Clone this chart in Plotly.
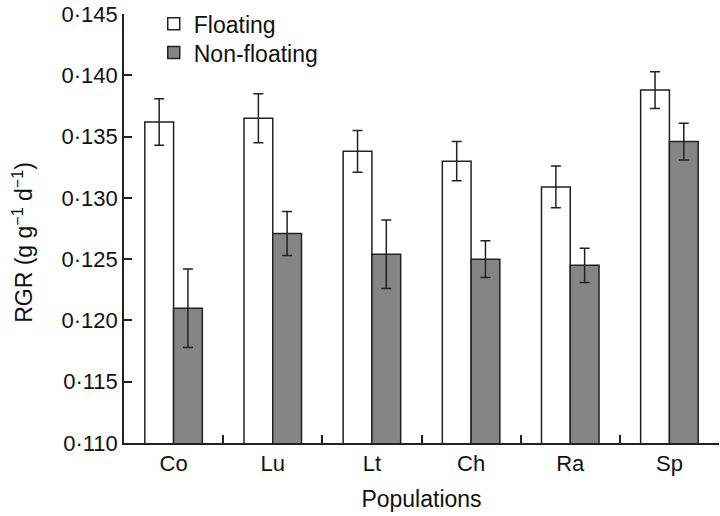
import plotly.graph_objects as go

populations = ["Co", "Lu", "Lt", "Ch", "Ra", "Sp"]
floating = [0.1362, 0.1365, 0.1338, 0.1330, 0.1309, 0.1388]
floating_err = [0.0019, 0.0020, 0.0017, 0.0016, 0.0017, 0.0015]
nonfloating = [0.1210, 0.1271, 0.1254, 0.1250, 0.1245, 0.1346]
nonfloating_err = [0.0032, 0.0018, 0.0028, 0.0015, 0.0014, 0.0015]
ytick_vals = [0.110, 0.115, 0.120, 0.125, 0.130, 0.135, 0.140, 0.145]
ytick_text = ["0·110", "0·115", "0·120", "0·125", "0·130", "0·135", "0·140", "0·145"]

font_family = "Liberation Sans, Arial, Helvetica, sans-serif"

fig = go.Figure()
fig.add_trace(go.Bar(
    x=populations, y=floating, name="Floating", legend="legend",
    marker=dict(color="white", line=dict(color="#222222", width=1.5)),
    error_y=dict(type="data", array=floating_err, color="#222222", thickness=1.5, width=5),
))
fig.add_trace(go.Bar(
    x=populations, y=nonfloating, name="Non-floating", legend="legend2",
    marker=dict(color="#858585", line=dict(color="#222222", width=1.5)),
    error_y=dict(type="data", array=nonfloating_err, color="#222222", thickness=1.5, width=5),
))

fig.add_annotation(
    text="RGR (g g<sup>−1</sup> d<sup>−1</sup>)", textangle=-90,
    xref="paper", yref="paper", x=-0.17, y=0.4685,
    xanchor="center", yanchor="middle", showarrow=False,
    font=dict(size=23),
)

fig.update_layout(
    width=720, height=516,
    margin=dict(l=124, r=1, t=14, b=73, autoexpand=False),
    paper_bgcolor="white", plot_bgcolor="white",
    barmode="group", bargap=0.42, bargroupgap=0,
    font=dict(family=font_family, size=22, color="#111111"),
    showlegend=True,
    legend=dict(x=0.05, y=1.027, xanchor="left", yanchor="top",
                bgcolor="rgba(0,0,0,0)", font=dict(size=23), itemwidth=30),
    legend2=dict(x=0.05, y=0.960, xanchor="left", yanchor="top",
                 bgcolor="rgba(0,0,0,0)", font=dict(size=23), itemwidth=30),
    xaxis=dict(
        title=dict(text="Populations", font=dict(size=23), standoff=16),
        showline=True, linecolor="#222222", linewidth=1.5,
        ticks="inside", tickson="boundaries", ticklen=8, tickcolor="#222222", tickwidth=1.5,
        showgrid=False, tickfont=dict(size=22), automargin=False,
    ),
    yaxis=dict(
        range=[0.110, 0.14501], tickvals=ytick_vals, ticktext=ytick_text,
        showline=True, linecolor="#222222", linewidth=1.5,
        ticks="inside", ticklen=8, tickcolor="#222222", tickwidth=1.5,
        showgrid=False, zeroline=False, tickfont=dict(size=22), automargin=False,
        ticklabeloverflow="allow",
    ),
)

fig.write_html("out.html", config={"displayModeBar": False},
               post_script="document.body.style.margin='0px';")
